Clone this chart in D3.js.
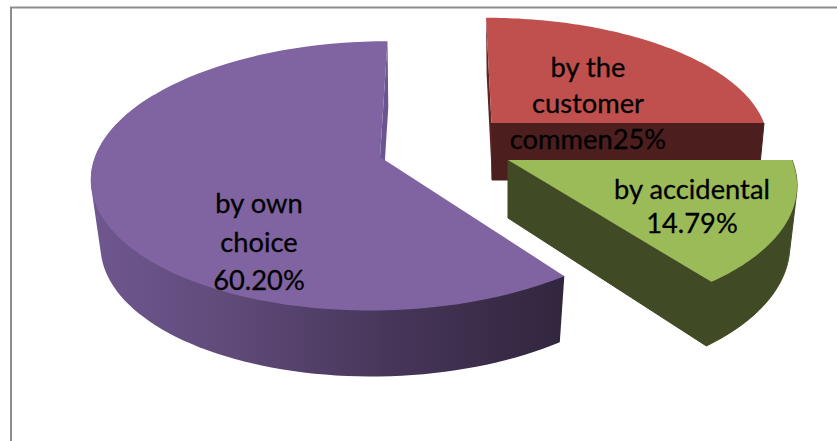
<!DOCTYPE html>
<html>
<head>
<meta charset="utf-8">
<script src="https://cdn.jsdelivr.net/npm/d3@7"></script>
<style>
  html, body { margin: 0; padding: 0; background: #fff; }
  svg { display: block; }
  text { font-family: Lato, "Open Sans", sans-serif; fill: #000; stroke: #000; stroke-width: 0.3px; text-anchor: middle; }
</style>
</head>
<body>
<div id="chart"></div>
<script>
// Chart values, in drawing order clockwise from twelve o'clock
const categories = ["by the customer comment", "by accidental", "by own choice"];
const shares = [25, 14.79, 60.20];
const labelLines = [
  ["by the", "customer", "commen25%"],
  ["by accidental", "14.79%"],
  ["by own", "choice", "60.20%"]
];

const width = 837, height = 441;

// Exploded 3D geometry for each slice: apex of the top face, radii, wall depth and tilt
const layout = [
  { ax: 491.5, ay: 123, rx: 272.5, ry: 120, depth: 57, dx: 0.5, shrink: 0.978, stretch: 1, skew: -0.0229,
    top: "#c0504d", wall: "#4d1e1e", back: "#5b2523", label: [588, 77], lead: 36 },
  { ax: 508, ay: 160, rx: 284, ry: 135, depth: 58, dx: 0, shrink: 0.975, stretch: 1.05, skew: -0.047,
    top: "#9bbb59", wall: "#404a24", back: "#404a24", label: [692, 199], lead: 34 },
  { ax: 380, ay: 157, rx: 285, ry: 132, depth: 66, dx: 1, shrink: 0.97, stretch: 1, skew: 0.03,
    top: "#8064a2", wall: "url(#purpleWall)", back: "#6b5590", label: [259, 213], lead: 38.5 }
];
const perspective = 0.14;

const svg = d3.select("#chart").append("svg")
  .attr("width", width).attr("height", height);

const defs = svg.append("defs");
const grad = defs.append("linearGradient")
  .attr("id", "purpleWall").attr("gradientUnits", "userSpaceOnUse")
  .attr("x1", 92).attr("x2", 560).attr("y1", 0).attr("y2", 0);
[[0, "#6f578f"], [0.3, "#5f4a79"], [0.65, "#463558"], [1, "#32263f"]].forEach(([o, c]) =>
  grad.append("stop").attr("offset", o).attr("stop-color", c));

// Outline frame: only the top and left rules are in view
svg.append("path")
  .attr("d", d3.line()([[11, height], [11, 7.5], [width, 7.5]]))
  .attr("fill", "none").attr("stroke", "#8c8c8c").attr("stroke-width", 2);

const pie = d3.pie().sort(null).value(d => d);
const arcs = pie(shares);

// Map a pie angle and a radius fraction on the top (z=0) or bottom (z=1) rim to the page
function project(g, angle, r, z) {
  const X = r * Math.sin(angle), Y = r * Math.cos(angle);
  const w = 1 + perspective * Y;
  const xs = g.rx * (1 - (1 - g.shrink) * z);
  const ys = g.ry * (1 + (g.stretch - 1) * z);
  return [
    g.ax + g.dx * z + xs * (X + g.skew * Y) / w,
    g.ay + g.depth * z - ys * Y / w
  ];
}

function rim(g, a0, a1, z) {
  const n = 80;
  return d3.range(n + 1).map(i => project(g, a0 + (a1 - a0) * i / n, 1, z));
}

const closed = d3.line().curve(d3.curveLinearClosed);
// The rear part of the big slice's rim faces away from the viewer, so its wall stops short
const wallSweepLimit = 300 * Math.PI / 180;

const slices = svg.selectAll("g.slice").data(arcs).join("g").attr("class", "slice");

slices.each(function (d, i) {
  const g = layout[i], sel = d3.select(this);
  const a0 = d.startAngle, a1 = d.endAngle;
  const apexTop = project(g, a0, 0, 0), apexBot = project(g, a0, 0, 1);

  // Cut face at the slice's starting angle
  sel.append("path").attr("fill", g.back)
    .attr("d", closed([project(g, a0, 1, 0), apexTop, apexBot, project(g, a0, 1, 1)]));
  if (i === 2) {
    // Big slice: only its left cut face (at the closing angle) shows, beside the top face
    sel.select("path")
      .attr("d", closed([project(g, a1, 1, 0), apexTop, apexBot, project(g, a1, 1, 1)]));
  } else {
    // Cut face at the slice's ending angle
    sel.append("path").attr("fill", g.wall).attr("stroke", g.wall).attr("stroke-width", 1)
      .attr("d", closed([apexTop, project(g, a1, 1, 0), project(g, a1, 1, 1), apexBot]));
  }
  // Curved outer wall: the hull of both rims gives a clean silhouette
  if (i > 0) {
    const end = Math.min(a1, wallSweepLimit);
    const wall = sel.append("path").attr("fill", g.wall)
      .attr("d", closed(d3.polygonHull(rim(g, a0, end, 0).concat(rim(g, a0, end, 1)))));
    if (i === 1) wall.attr("stroke", g.wall).attr("stroke-width", 1);
  }
  // Top face
  sel.append("path").attr("fill", g.top)
    .attr("d", closed([apexTop].concat(rim(g, a0, a1, 0))));
});

// Labels sit above every slice
arcs.forEach((d, i) => {
  const g = layout[i];
  svg.append("text")
    .attr("font-size", 27.3)
    .selectAll("tspan").data(labelLines[i]).join("tspan")
    .attr("x", g.label[0])
    .attr("y", (t, j) => g.label[1] + j * g.lead)
    .text(t => t);
});
</script>
</body>
</html>
